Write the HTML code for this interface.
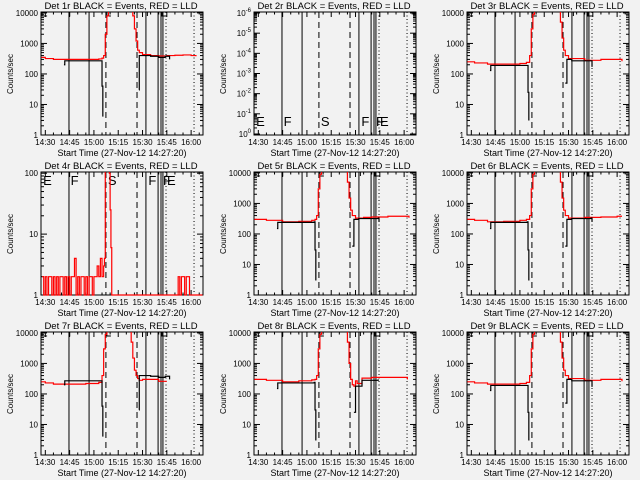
<!DOCTYPE html>
<html><head><meta charset="utf-8"><style>
html,body{margin:0;padding:0;background:#f2f2f2}
svg{display:block;font-family:"Liberation Sans",sans-serif}
</style></head><body>
<svg id="c" width="640" height="480" viewBox="0 0 640 480"></svg>
<script>
const detNames=["1r","2r","3r","4r","5r","6r","7r","8r","9r"];
const xTicks=[30,45,60,75,90,105,120];
const xTickLabels=["14:30","14:45","15:00","15:15","15:30","15:45","16:00"];
const solidLines=[44.6,57,92.1,99.6,101.4,102.6];
const dashedLines=[67.4,86.6];
const dottedLines=[104.5,121.8];
const letterT=[28,45,68,93,102,104.5];
const letterS=["E","F","S","F","F","E"];
// panel series (time in minutes after 14:00, counts/sec)
const redT1=[27.5,30,35,45,55,63,65,66,67,68,69,70,82,83,84,85,86,87,88,90,95,100,105,110,115,120,123];
const redV1=[350,320,300,300,300,310,330,400,2000,8000,20000,30000,30000,20000,8000,3000,1200,600,500,430,400,390,400,410,420,400,380];
const blkT1=[41.5,42,64.5,65,65.5,null,87.8,88,95,100,104,106.7];
const blkV1=[200,270,270,40,4,null,30,400,380,350,380,300];
const redT3=[27.5,32,40,50,60,64,66,67,68,69,70,82,84,85,86,87,88,90,100,110,120,123];
const redV3=[250,230,210,210,220,240,400,3000,9000,20000,30000,30000,15000,5000,1500,600,400,320,280,300,300,260];
const blkT3=[41.5,42,64.5,65,65.5,null,88,89,92,104,104.5];
const blkV3=[130,190,190,25,3,null,50,300,270,270,170];
const redT5=[27.5,35,45,55,63,65,66,67,68,69,70,82,84,85,86,87,88,90,95,100,110,120,123];
const redV5=[300,280,250,260,280,300,400,3000,9000,20000,30000,30000,15000,5000,1500,600,400,330,350,360,380,380,340];
const blkT5=[41.5,42,64.5,65,65.5,null,88,89,92,104,104.5];
const blkV5=[150,240,250,30,3,null,40,300,320,330,250];
const redT8=[27.5,35,45,55,63,65,66,67,68,69,70,82,84,85,86,87,88,89,90,91,94,100,110,121,122];
const redV8=[300,280,250,270,290,300,400,3000,9000,20000,30000,30000,15000,5000,1000,300,200,180,270,220,330,350,350,350,300];
const blkT8=[41.5,42,64.5,65,65.5,null,89,90,94,104];
const blkV8=[150,230,240,30,3,null,25,180,280,300];
const redT4=[28,29,30,31,32,33,34,35,36,37,38,39,40,41,42,43,44,45,46,47,48,49,50,51,52,53,54,55,56,57,58,59,60,61,62,63,64,65,66,66.5,67,67.5,69.5,70,70.5,71,110,111,112,113,114,115,116,117,118,119,127];
const redV4=[2,1,2,1,2,2,1,2,1,2,1,2,2,1,2,1,2,1,2,2,4,1,2,1,2,2,1,2,1,2,2,1,2,2,3,2,4,2,3,4,200,200,100,25,6,0.5,0.5,1,2,1,2,2,1,2,2,1,0.5];
const blkT4=[];
const blkV4=[];
const redSets=[[redT1,redV1],[[],[]],[redT3,redV3],[redT4,redV4],[redT5,redV5],[redT3,redV5],[redT1,redV3],[redT8,redV8],[redT3,redV3]];
const blkSets=[[blkT1,blkV1],[[],[]],[blkT3,blkV3],[blkT4,blkV4],[blkT5,blkV5],[blkT3,blkV5],[blkT1,blkV1],[blkT8,blkV8],[blkT3,blkV3]];
const NS="http://www.w3.org/2000/svg";
const svg=document.getElementById("c");
function mk(tag,attrs,parent){const e=document.createElementNS(NS,tag);for(const k in attrs)e.setAttribute(k,attrs[k]);parent.appendChild(e);return e;}
const L=41,R=203,T=12,B=135;
function xs(t){return L+(t-27.33)*1.62;}
for(let p=0;p<9;p++){
  const ox=(p%3)*213, oy=Math.floor(p/3)*160;
  const g=mk("g",{transform:`translate(${ox},${oy})`},svg);
  
  
  let lo=0,hi=4.03;
  if(p===1){lo=-0.05;hi=6.05;}
  if(p===3){lo=0;hi=2.02;}
  const ys=v=>B-(Math.log10(v)-lo)/(hi-lo)*(B-T);
  const tt=mk("text",{x:121,y:9,"text-anchor":"middle","font-size":"9.5"},g);
  tt.textContent="Det "+detNames[p]+" BLACK = Events, RED = LLD";
  
  
  const yt=mk("text",{x:0,y:0,"text-anchor":"middle","font-size":"8",transform:"translate(13,74) rotate(-90)"},g);
  yt.textContent="Counts/sec";
  
  
  const xt=mk("text",{x:122,y:156,"text-anchor":"middle","font-size":"9"},g);
  xt.textContent="Start Time (27-Nov-12 14:27:20)";
  
  
  mk("rect",{x:L,y:T,width:R-L,height:B-T,fill:"none",stroke:"#000","stroke-width":1},g);
  for(let t=30;t<=125;t+=5){const x=xs(t);const len=(t%15===0)?5:2.5;
    mk("line",{x1:x,x2:x,y1:B,y2:B-len,stroke:"#000"},g);mk("line",{x1:x,x2:x,y1:T,y2:T+len,stroke:"#000"},g);}
  xTicks.forEach((t,i)=>{const tl=mk("text",{x:xs(t),y:145,"text-anchor":"middle","font-size":"8"},g);tl.textContent=xTickLabels[i];
    
    });
  for(let d=Math.ceil(lo);d<=Math.floor(hi);d++){
    const y=ys(Math.pow(10,d));
    mk("line",{x1:L,x2:L+6,y1:y,y2:y,stroke:"#000"},g);mk("line",{x1:R,x2:R-6,y1:y,y2:y,stroke:"#000"},g);
    for(let m=2;m<10;m++){const yy=ys(m*Math.pow(10,d));if(yy<T)break;
      mk("line",{x1:L,x2:L+3,y1:yy,y2:yy,stroke:"#000"},g);mk("line",{x1:R,x2:R-3,y1:yy,y2:yy,stroke:"#000"},g);}
    let lab;
    if(p===1){lab=mk("text",{x:L-3,y:y+3,"text-anchor":"end","font-size":"8"},g);lab.innerHTML='10<tspan dy="-4" font-size="6">'+(d===0?'0':'-'+d)+'</tspan>';}
    else{lab=mk("text",{x:L-3,y:y+3,"text-anchor":"end","font-size":"8"},g);lab.textContent=String(Math.pow(10,d));}
    
    
  }
  solidLines.forEach(t=>{mk("line",{x1:xs(t),x2:xs(t),y1:T,y2:B,stroke:"#000","stroke-width":1},g);});
  dashedLines.forEach(t=>{mk("line",{x1:xs(t),x2:xs(t),y1:T,y2:B,stroke:"#000","stroke-dasharray":"6,4"},g);});
  dottedLines.forEach(t=>{mk("line",{x1:xs(t),x2:xs(t),y1:T,y2:B,stroke:"#000","stroke-dasharray":"1,2.5"},g);});
  if(p===1||p===3){
    letterT.forEach((t,i)=>{const lt=mk("text",{x:xs(t)+1,y:p===1?126:25,"font-size":"13"},g);lt.textContent=letterS[i];
      
      });
  }else{
    mk("path",{d:`M${xs(28)} ${T}v4h5 M${xs(45)} ${T}v4 M${xs(68)} ${T}v4h4 M${xs(93)} ${T}v4 M${xs(102)} ${T}v4h4`,stroke:"#000",fill:"none"},g);
  }
  function series(TT,VV,col,name){
    let d="";let pen=false;let above=false;
    for(let i=0;i<TT.length;i++){
      if(TT[i]===null){pen=false;above=false;continue;}
      let y=ys(VV[i]);
      const x=xs(TT[i]);
      if(y<T){
        if(pen){d+=`H${x}V${T}`;}
        pen=false;above=true;continue;
      }
      y=Math.min(y,B);
      if(above){d+=`M${x} ${T}V${y}`;pen=true;above=false;}
      else if(!pen){d+=`M${x} ${y}`;pen=true;}
      else{d+=`H${x}V${y}`;}
    }
    if(d){const pa=mk("path",{d:d,stroke:col,fill:"none","stroke-width":1.2},g);
      
      }
  }
  series(redSets[p][0],redSets[p][1],"#ff0000","lld-rate-line");
  series(blkSets[p][0],blkSets[p][1],"#000","event-rate-line");
}
</script>
</body></html>
